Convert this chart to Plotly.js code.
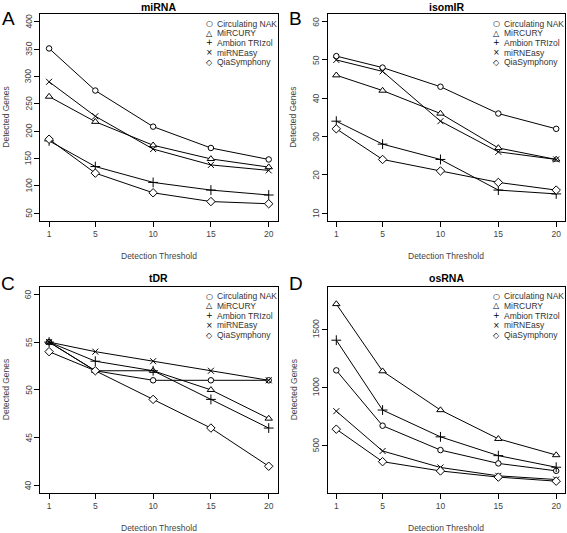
<!DOCTYPE html>
<html>
<head>
<meta charset="utf-8">
<script src="https://cdn.plot.ly/plotly-3.0.1.min.js"></script>
<style>html,body{margin:0;padding:0;background:#fff;}#chart{width:567px;height:533px;}</style>
</head>
<body>
<div id="chart"></div>
<script>
// ---- data ----
const thresholds = [1, 5, 10, 15, 20];
const methods = ['Circulating NAK', 'MiRCURY', 'Ambion TRIzol', 'miRNEasy', 'QiaSymphony'];
const panelTitles = ['miRNA', 'isomIR', 'tDR', 'osRNA'];
const panelLetters = ['A', 'B', 'C', 'D'];

// rows follow `methods` order
const miRNA = [
  [351, 274, 208, 169, 148],
  [263, 217, 174, 149, 134],
  [182, 135, 106, 92, 83],
  [290, 227, 167, 138, 128],
  [185, 123, 87, 71, 67]
];
const isomIR = [
  [51, 48, 43, 36, 32],
  [46, 42, 36, 27, 24],
  [34, 28, 24, 16, 15],
  [50, 47, 34, 26, 24],
  [32, 24, 21, 18, 16]
];
const tDR = [
  [55, 52, 51, 51, 51],
  [55, 52, 52, 50, 47],
  [55, 53, 52, 49, 46],
  [55, 54, 53, 52, 51],
  [54, 52, 49, 46, 42]
];
const osRNA = [
  [1145, 668, 458, 343, 279],
  [1717, 1138, 803, 555, 415],
  [1405, 803, 572, 410, 310],
  [793, 450, 308, 236, 204],
  [638, 358, 278, 225, 190]
];
const yTicks = [
  [50, 100, 150, 200, 250, 300, 350, 400],
  [10, 20, 30, 40, 50, 60],
  [40, 45, 50, 55, 60],
  [500, 1000, 1500]
];

// ---- styling ----
const panelData = [miRNA, isomIR, tDR, osRNA];
const yRanges = [[36, 414], [8, 62], [39.2, 60.8], [88, 1866]];
const symbols = ['circle', 'triangle-up', 'cross-thin-open', 'x-thin-open', 'diamond'];
const symSizes = [5.5, 6.5, 7, 6, 6.5];
const symFill = ['#fff', '#fff', '#000', '#000', '#fff'];
const legendGlyphs = ['○', '△', '+', '×', '◇'];
const FONT = 'Liberation Sans, Arial, Helvetica, sans-serif';

const W = 567, H = 533;
const px = x => x / W;
const py = y => 1 - y / H;

// panel boxes in pixels [left, right, top, bottom]
const boxes = [
  [40.3, 277.5, 14, 220.7],
  [327.5, 565, 14, 220.7],
  [40.3, 277.5, 286.7, 493],
  [327.5, 565, 286.7, 493]
];

const traces = [];
const layout = {
  width: W, height: H,
  margin: {l: 0, r: 0, t: 0, b: 0},
  paper_bgcolor: '#fff', plot_bgcolor: '#fff',
  showlegend: false,
  font: {family: FONT, color: '#000'},
  annotations: []
};

panelData.forEach((vals, p) => {
  const sfx = p === 0 ? '' : String(p + 1);
  const [L, R, T, B] = boxes[p];
  const axBase = {
    showline: true, mirror: true, linecolor: '#000', linewidth: 1,
    ticks: 'outside', ticklen: 5, tickwidth: 1, tickcolor: '#000',
    showgrid: false, zeroline: false, automargin: false,
    tickfont: {family: FONT, size: 8.5, color: '#444'}
  };
  layout['xaxis' + sfx] = Object.assign({}, axBase, {
    domain: [px(L), px(R)], range: [0.24, 20.76],
    tickmode: 'array', tickvals: thresholds, ticktext: thresholds.map(String),
    anchor: 'y' + sfx
  });
  layout['yaxis' + sfx] = Object.assign({}, axBase, {
    domain: [py(B), py(T)], range: yRanges[p],
    tickmode: 'array', tickvals: yTicks[p], showticklabels: false,
    anchor: 'x' + sfx
  });

  // rotated y tick labels, placed on the y axis scale
  yTicks[p].forEach(v => {
    layout.annotations.push({
      xref: 'paper', yref: 'y' + sfx, x: px(L - 11.5), y: v,
      text: String(v), showarrow: false, textangle: -90,
      xanchor: 'center', yanchor: 'middle',
      font: {family: FONT, size: 8.5, color: '#444'}
    });
  });

  vals.forEach((row, i) => {
    traces.push({
      type: 'scatter', mode: 'lines+markers',
      x: thresholds, y: row, name: methods[i],
      xaxis: 'x' + sfx, yaxis: 'y' + sfx,
      line: {color: '#000', width: 1},
      marker: {symbol: symbols[i], size: symSizes[i], color: symFill[i],
               line: {color: '#000', width: 1}},
      cliponaxis: false
    });
  });

  const cx = (L + R) / 2, cy = (T + B) / 2;
  // panel title
  layout.annotations.push({
    xref: 'paper', yref: 'paper', x: px(cx), y: py(T - (p < 2 ? 7.5 : 9)),
    text: '<b>' + panelTitles[p] + '</b>', showarrow: false,
    xanchor: 'center', yanchor: 'middle',
    font: {family: FONT, size: 10.5, color: '#000'}
  });
  // panel letter
  layout.annotations.push({
    xref: 'paper', yref: 'paper', x: px(L - 32), y: py(T + (p < 2 ? 4.5 : -3)),
    text: panelLetters[p], showarrow: false, xanchor: 'center', yanchor: 'middle',
    font: {family: FONT, size: 19, color: '#000'}
  });
  // axis titles
  layout.annotations.push({
    xref: 'paper', yref: 'paper', x: px(cx), y: py(B + 35),
    text: 'Detection Threshold', showarrow: false, xanchor: 'center', yanchor: 'middle',
    font: {family: FONT, size: 8.5, color: '#444'}
  });
  layout.annotations.push({
    xref: 'paper', yref: 'paper', x: px(L - 34), y: py(cy),
    text: 'Detected Genes', showarrow: false, textangle: -90,
    xanchor: 'center', yanchor: 'middle',
    font: {family: FONT, size: 8.5, color: '#444'}
  });
  // legend
  methods.forEach((m, i) => {
    const ly = T + 9.5 + i * 9.7;
    const sx = R - 68.5;
    layout.annotations.push({
      xref: 'paper', yref: 'paper', x: px(sx), y: py(ly),
      text: legendGlyphs[i], showarrow: false, xanchor: 'center', yanchor: 'middle',
      font: {family: 'DejaVu Sans, sans-serif', size: 8, color: '#000'}
    });
    layout.annotations.push({
      xref: 'paper', yref: 'paper', x: px(sx + 5.5), y: py(ly),
      text: m, showarrow: false, xanchor: 'left', yanchor: 'middle',
      font: {family: FONT, size: 8.5, color: '#333'}
    });
  });
});

Plotly.newPlot('chart', traces, layout, {staticPlot: true, displayModeBar: false});
</script>
</body>
</html>
